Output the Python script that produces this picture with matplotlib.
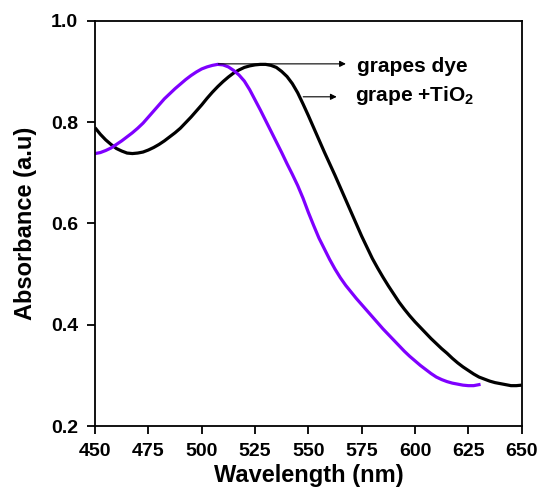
import numpy as np
import matplotlib
matplotlib.use("Agg")
import matplotlib.pyplot as plt

plt.rcParams['font.family'] = ['Liberation Sans', 'DejaVu Sans']
plt.rcParams['font.weight'] = 'bold'
plt.rcParams['mathtext.fontset'] = 'custom'
plt.rcParams['mathtext.rm'] = 'Liberation Sans:bold'
plt.rcParams['mathtext.bf'] = 'Liberation Sans:bold'
plt.rcParams['mathtext.default'] = 'rm'

# longueurs d'onde communes (pas de 2.5 nm)
wl = [450 + 2.5 * i for i in range(81)]

# spectre du colorant seul (raisin), mesuré jusqu'à 630 nm
abs_dye = [0.738, 0.740, 0.744, 0.749, 0.756, 0.763, 0.771, 0.779, 0.788,
           0.798, 0.810, 0.822, 0.834, 0.846, 0.856, 0.866, 0.875, 0.884,
           0.892, 0.899, 0.905, 0.909, 0.912, 0.914, 0.913, 0.909, 0.902,
           0.893, 0.881, 0.864, 0.844, 0.824, 0.803, 0.782, 0.761, 0.740,
           0.718, 0.697, 0.675, 0.650, 0.622, 0.596, 0.571, 0.550, 0.529,
           0.510, 0.493, 0.478, 0.465, 0.452, 0.440, 0.428, 0.416, 0.404,
           0.392, 0.381, 0.370, 0.359, 0.348, 0.338, 0.329, 0.320, 0.312,
           0.304, 0.297, 0.292, 0.288, 0.285, 0.283, 0.281, 0.280, 0.280,
           0.282]

# spectre colorant + TiO2
abs_tio2 = [0.789, 0.776, 0.765, 0.756, 0.748, 0.743, 0.739, 0.738, 0.739,
            0.741, 0.745, 0.750, 0.756, 0.763, 0.771, 0.779, 0.788, 0.799,
            0.810, 0.822, 0.834, 0.847, 0.859, 0.870, 0.880, 0.889, 0.897,
            0.903, 0.908, 0.911, 0.913, 0.914, 0.914, 0.912, 0.908, 0.900,
            0.890, 0.876, 0.858, 0.836, 0.813, 0.789, 0.765, 0.741, 0.718,
            0.695, 0.671, 0.647, 0.623, 0.599, 0.575, 0.553, 0.531, 0.512,
            0.494, 0.477, 0.461, 0.445, 0.431, 0.418, 0.406, 0.395, 0.384,
            0.373, 0.363, 0.353, 0.344, 0.334, 0.325, 0.317, 0.310, 0.303,
            0.297, 0.293, 0.289, 0.286, 0.284, 0.282, 0.280, 0.280, 0.281]

x_ticks = [450, 475, 500, 525, 550, 575, 600, 625, 650]
y_ticks = [0.2, 0.4, 0.6, 0.8, 1.0]

fig = plt.figure(figsize=(5.4, 4.95), dpi=100)
ax = fig.add_axes([0.176, 0.139, 0.79, 0.819])

ax.plot(wl, abs_tio2, color='black', lw=2.3, solid_capstyle='butt')
ax.plot(wl[:len(abs_dye)], abs_dye, color='#7F00FF', lw=2.3)

ax.set_xlim(450, 650)
ax.set_ylim(0.2, 1.0)
ax.set_xticks(x_ticks)
ax.set_yticks(y_ticks)
ax.set_yticklabels([f"{v:.1f}" for v in y_ticks])
ax.tick_params(direction='out', length=6, width=1.3, labelsize=14, pad=6)
for s in ax.spines.values():
    s.set_linewidth(1.3)

ax.set_xlabel("Wavelength (nm)", fontsize=17, fontweight='bold', labelpad=3)
ax.set_ylabel("Absorbance (a.u)", fontsize=17, fontweight='bold', labelpad=10)

# flèches vers les légendes
arrow = dict(arrowstyle='-|>', lw=0.8, color='black', mutation_scale=9,
             shrinkA=0, shrinkB=0)
ax.annotate("", xy=(567.6, 0.915), xytext=(507.8, 0.915), arrowprops=arrow)
ax.annotate("", xy=(563.3, 0.850), xytext=(547.6, 0.850), arrowprops=arrow)
ax.text(573, 0.909, "grapes dye", fontsize=15, fontweight='bold', va='center')
ax.text(572, 0.852, r"grape +TiO$_2$", fontsize=15, fontweight='bold',
        va='center')

fig.savefig("out.png", dpi=100)
